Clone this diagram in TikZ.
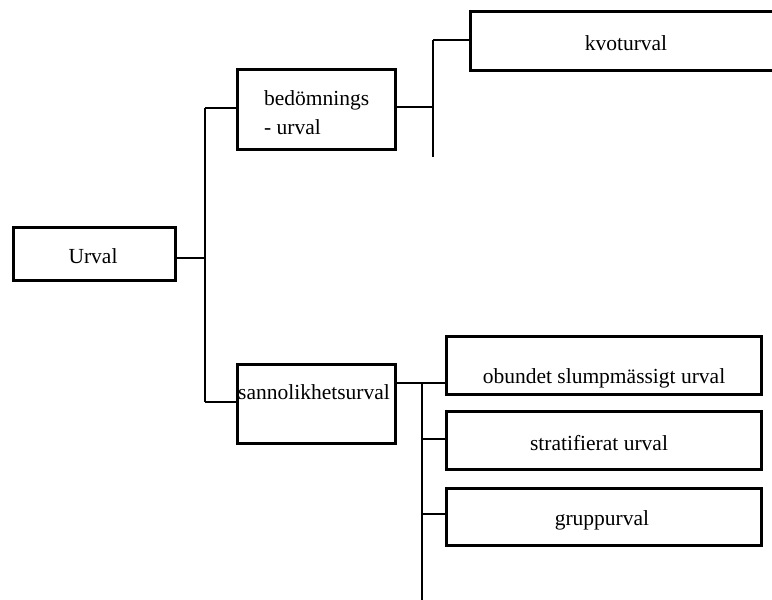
\documentclass[tikz,border=0pt]{standalone}
\usepackage{fontspec}
\setmainfont{Liberation Serif}
\begin{document}
\begin{tikzpicture}[x=1pt,y=-1pt,
  box/.style={draw, line width=3pt, rectangle, inner sep=0pt, anchor=north west},
  lbl/.style={inner sep=0pt, font=\fontsize{21.5}{19}\selectfont},
  link/.style={line width=2.8pt}]
\useasboundingbox (0,0) rectangle (772,600);
\clip (0,0) rectangle (772,600);

% boxes
\node[box, minimum width=162pt, minimum height=53pt] (urval) at (12,226) {};
\node[box, minimum width=158pt, minimum height=80pt] (bed) at (236,68) {};
\node[box, minimum width=314pt, minimum height=59pt] (kvot) at (469,10) {};
\node[box, minimum width=158pt, minimum height=79pt] (sann) at (236,363) {};
\node[box, minimum width=315pt, minimum height=58pt] (obund) at (445,335) {};
\node[box, minimum width=315pt, minimum height=58pt] (strat) at (445,410) {};
\node[box, minimum width=315pt, minimum height=57pt] (grupp) at (445,487) {};

% labels
\node[lbl, anchor=base] (urval-t) at (93,263) {Urval};
\node[lbl, anchor=base west] (bed-t1) at (264,105) {bedömnings};
\node[lbl, anchor=base west] (bed-t2) at (264,134) {- urval};
\node[lbl, anchor=base] (kvot-t) at (626,50) {kvoturval};
\node[lbl, anchor=base west] (sann-t) at (238,399) {sannolikhetsurval};
\node[lbl, anchor=base] (obund-t) at (604,383) {obundet slumpmässigt urval};
\node[lbl, anchor=base] (strat-t) at (599,450) {stratifierat urval};
\node[lbl, anchor=base] (grupp-t) at (602,525) {gruppurval};

% junction points
\coordinate (j0) at (205,258);
\coordinate (j1) at (205,108);
\coordinate (j2) at (205,402);
\coordinate (k0) at (433,107);
\coordinate (k1) at (433,40);
\coordinate (k2) at (433,157);
\coordinate (m0) at (422,383);
\coordinate (m1) at (422,439);
\coordinate (m2) at (422,514);
\coordinate (m3) at (422,605);

% connectors
\draw[link] (urval.east |- j0) -- (j0);
\draw[link] (j1) -- (j2);
\draw[link] (j1) -- (bed.west |- j1);
\draw[link] (j2) -- (sann.west |- j2);
\draw[link] (bed.east |- k0) -- (k0);
\draw[link] (k1) -- (k2);
\draw[link] (k1) -- (kvot.west |- k1);
\draw[link] (sann.east |- m0) -- (obund.west |- m0);
\draw[link] (m0) -- (m3);
\draw[link] (m1) -- (strat.west |- m1);
\draw[link] (m2) -- (grupp.west |- m2);
\end{tikzpicture}
\end{document}
